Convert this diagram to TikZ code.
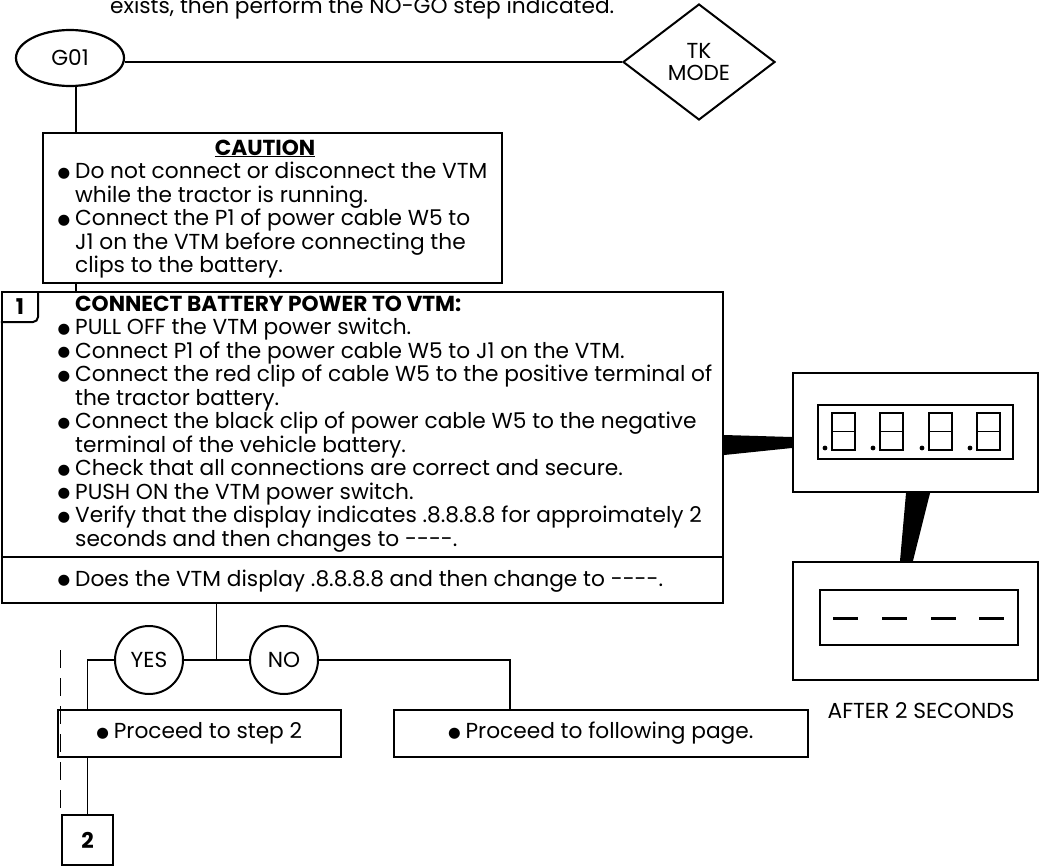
\documentclass[tikz,border=0pt]{standalone}
\usepackage{fontspec}
\setmainfont{Poppins}
\newfontfamily\dotfont{DejaVu Sans}
\usepackage{tikz}
\usetikzlibrary{shapes.geometric,calc,positioning}

% bullet and hanging indent for the step lists
\newcommand{\bul}{\makebox[17pt][l]{\hspace{-0.5pt}\raisebox{1.2pt}{\dotfont\fontsize{14.5}{14.5}\selectfont ●}}}
\newcommand{\ind}{\hspace*{17pt}}

\tikzset{
  % 全局字体
  every node/.append style={font=\fontsize{21.7}{23.5}\selectfont},
  % 连线
  wire/.style={line width=1.8pt},
  % 方框
  box/.style={draw, line width=2.4pt, inner sep=0pt},
  % 文本块(锚点在最后一行的基线)
  txt/.style={anchor=base west, inner sep=0pt, align=left},
  % YES / NO 圆
  ans/.style={circle, draw, line width=2pt, minimum size=68pt, inner sep=0pt},
  % 步骤编号
  tag/.style={font=\fontsize{21.7}{23.5}\selectfont\bfseries},
  % 显示窗
  win/.style={draw, line width=2pt, inner sep=0pt},
}

\begin{document}
\begin{tikzpicture}[x=1pt,y=-1pt]
    \useasboundingbox (0,0) rectangle (1040,867);
    \clip (0,0) rectangle (1040,867);

    % last line of the intro text
    \node[txt] (intro) at (110,14) {exists, then perform the NO-GO step indicated.};

    % entry point and mode
    \node[ellipse, draw, line width=2.2pt, minimum width=108pt, minimum height=56pt] (g01) at (70,58) {G01};
    \node[diamond, draw, line width=2pt, minimum width=152pt, minimum height=116pt, inner sep=0pt, align=center] (tk) at (699,62) {TK\\[-1pt]MODE};
    \draw[wire] (g01.east |- tk.west) -- (tk.west);

    % caution block
    \node[box, minimum width=459pt, minimum height=150pt] (caution) at (272.5,208) {};
    \node[anchor=base, inner sep=0pt, tag] (cautttl) at (265,155) {\underline{CAUTION}};
    \node[txt] (cauttxt) at (58,272.5) {\bul Do not connect or disconnect the VTM\\
        \ind while the tractor is running.\\
        \bul Connect the P1 of power cable W5 to\\
        \ind J1 on the VTM before connecting the\\
        \ind clips to the battery.};

    % step 1
    \node[box, minimum width=721pt, minimum height=311pt] (step) at (362.5,447.5) {};
    \draw[line width=2pt, rounded corners=5pt] (step.west |- 0,322) -- (38,322) -- (38,292);
    \node[tag] (n1) at (20,307) {1};
    \node[txt, tag] (s1ttl) at (75,311) {CONNECT BATTERY POWER TO VTM:};
    \node[txt] (s1txt) at (58,546) {\bul PULL OFF the VTM power switch.\\
        \bul Connect P1 of the power cable W5 to J1 on the VTM.\\
        \bul Connect the red clip of cable W5 to the positive terminal of\\
        \ind the tractor battery.\\
        \bul Connect the black clip of power cable W5 to the negative\\
        \ind terminal of the vehicle battery.\\
        \bul Check that all connections are correct and secure.\\
        \bul PUSH ON the VTM power switch.\\
        \bul Verify that the display indicates .8.8.8.8 for approimately 2\\
        \ind seconds and then changes to {-}{-}{-}{-}.};
    \draw[line width=2pt] (step.west |- 0,557) -- (step.east |- 0,557);
    \node[txt] (s1ask) at (58,586) {\bul Does the VTM display .8.8.8.8 and then change to {-}{-}{-}{-}.};

    % links down the left side
    \coordinate (drop) at (g01.-78);
    \draw[wire] (drop) -- (drop |- caution.north);
    \draw[wire] (drop |- caution.south) -- (drop |- step.north);

    % YES / NO branch
    \node[ans] (yes) at (149,660) {YES};
    \node[ans] (no) at (284,660) {NO};
    \coordinate (join) at ($(yes.east)!0.5!(no.west)$);
    \draw[wire] (yes.east) -- (no.west);
    \draw[wire] (join) -- (join |- step.south);

    \node[box, minimum width=283pt, minimum height=47pt] (go2) at (199.5,733.5) {\bul Proceed to step 2};
    \node[box, minimum width=414pt, minimum height=47pt] (gonext) at (601,733.5) {\bul Proceed to following page.};
    \node[box, tag, minimum width=51pt, minimum height=50pt] (s2) at (87.5,840) {2};

    \coordinate (nodrop) at ($(gonext.north west)+(117,0)$);
    \draw[wire] (yes.west) -| (s2.north |- go2.north);
    \draw[wire] (s2.north |- go2.south) -- (s2.north);
    \draw[wire] (no.east) -| (nodrop);

    % faint dashed trace
    \coordinate (dtop) at (60,650);
    \coordinate (dbot) at (60,810);
    \draw[line width=1pt, dash pattern=on 18pt off 10pt] (dtop) -- (dbot);

    % display showing .8.8.8.8
    \node[box, minimum width=245pt, minimum height=119pt] (disp8) at (915.5,432.5) {};
    \node[win, minimum width=195pt, minimum height=54pt] (win8) at (915.5,432) {};
    \foreach \dx in {832,880,929,977} {
        \draw[line width=1.8pt] (\dx,413) rectangle ({\dx+23},450);
        \draw[line width=1.8pt] (\dx,431.5) -- ({\dx+23},431.5);
        \fill ({\dx-7},448) circle (2.4);
    }
    \fill (step.east |- 0,435) -- (disp8.west |- 0,437) -- (disp8.west |- 0,448) -- (step.east |- 0,455) -- cycle;

    % display showing ----
    \node[box, minimum width=245pt, minimum height=118pt] (dispdash) at (915.5,621) {};
    \node[win, minimum width=198pt, minimum height=55pt] (windash) at (919,617.5) {};
    \foreach \dx in {833,882,931,979} {
        \draw[line width=3pt] (\dx,618) -- ({\dx+25},618);
    }
    \fill (disp8.south -| 906,0) -- (disp8.south -| 930,0) -- (dispdash.north -| 913,0) -- (dispdash.north -| 900,0) -- cycle;
    \node (after) at (921,711) {AFTER 2 SECONDS};
\end{tikzpicture}
\end{document}
